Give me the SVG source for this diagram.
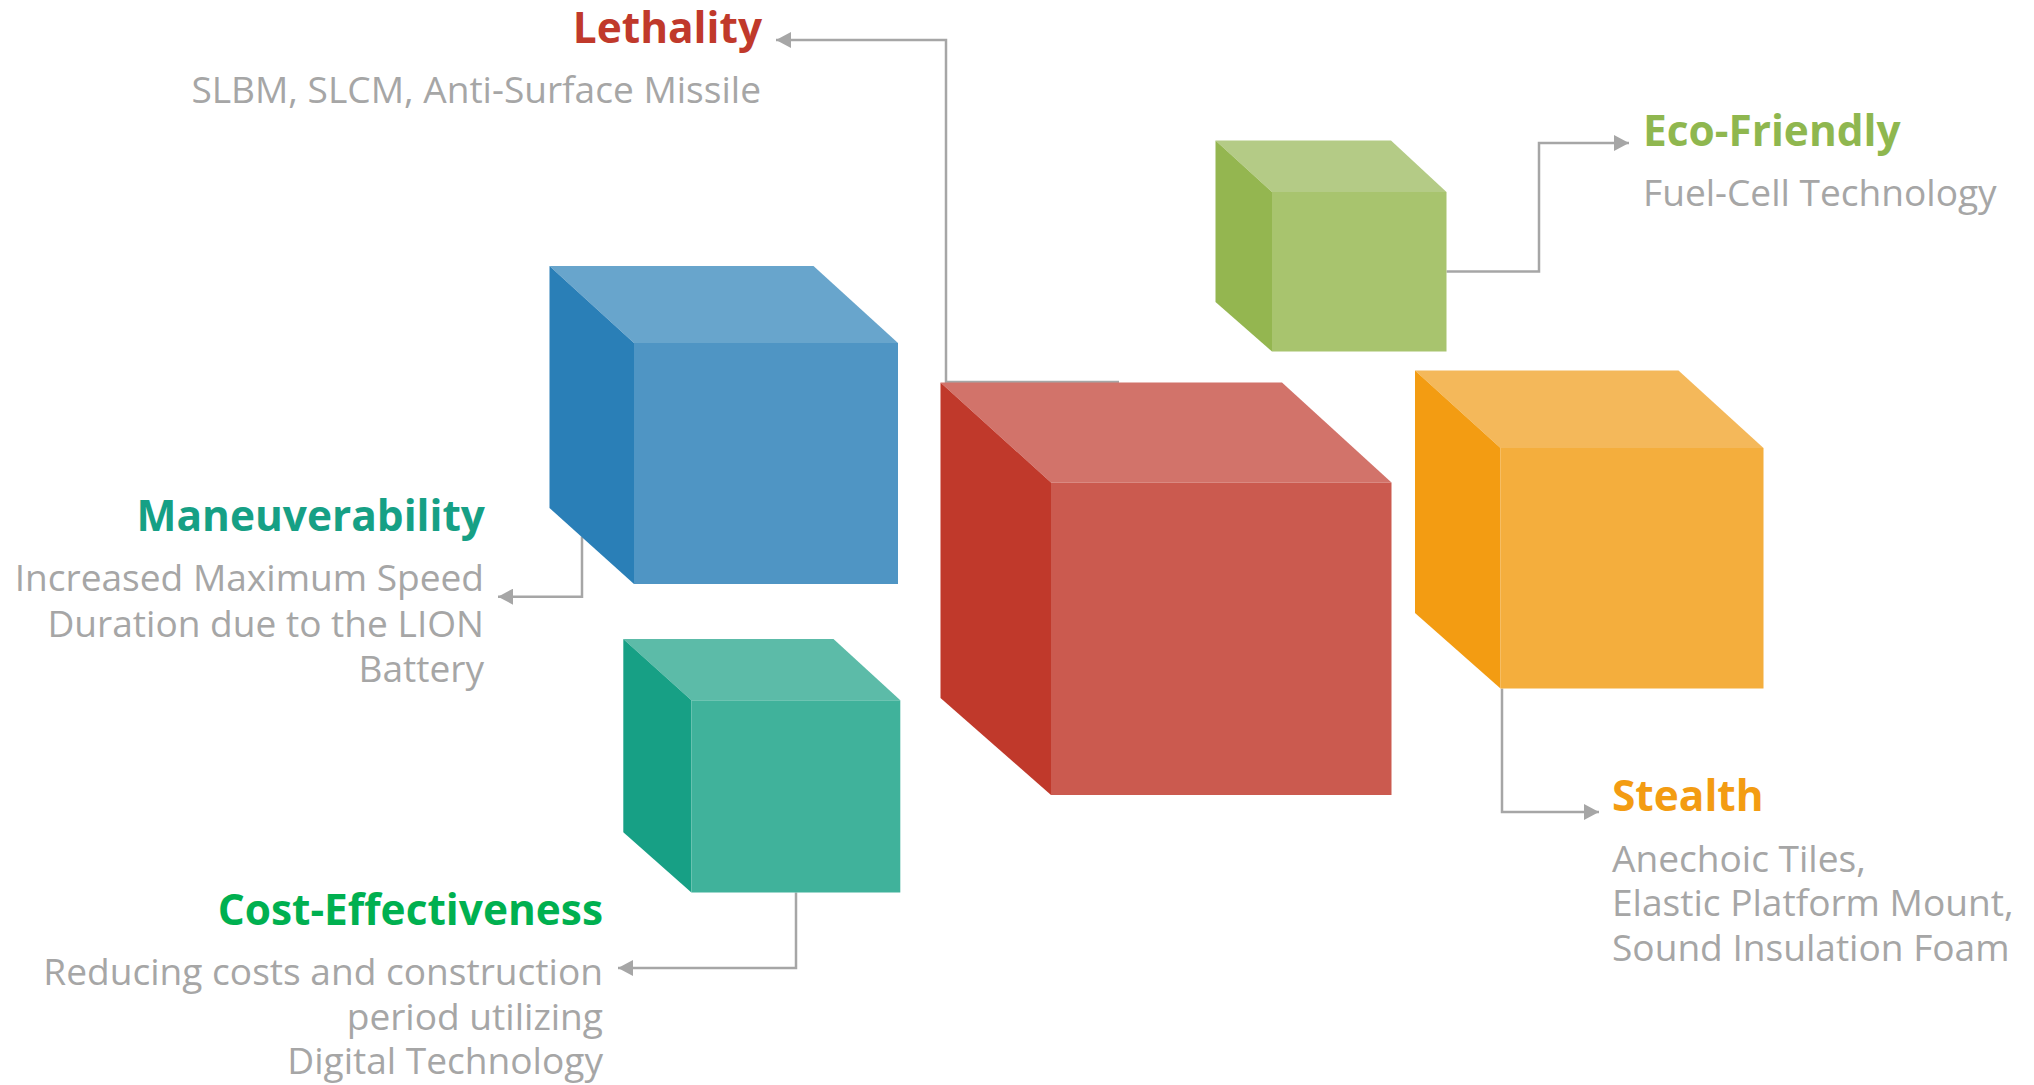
<svg xmlns="http://www.w3.org/2000/svg" width="2034" height="1085" viewBox="0 0 2034 1085">
<style>
.t{font-family:"Open Sans","Noto Sans","Liberation Sans",sans-serif;font-weight:700;font-size:42.4px}
.s{font-family:"Open Sans","Noto Sans","Liberation Sans",sans-serif;font-weight:400;font-size:37.1px;fill:#a6a6a6}
.e{text-anchor:end}
.c{fill:none;stroke:#a6a6a6;stroke-width:2.5}
</style>
<defs>
<marker id="ah" markerUnits="userSpaceOnUse" markerWidth="16" markerHeight="16" refX="15" refY="8" orient="auto">
<path d="M0,0 L15,8 L0,16 Z" fill="#a6a6a6"/>
</marker>
</defs>
<rect width="2034" height="1085" fill="#ffffff"/>
<g id="connectors">
<path class="c" d="M1119,382 H946 V40 H776" marker-end="url(#ah)"/>
<path class="c" d="M1446.5,271.5 H1539 V143 H1629" marker-end="url(#ah)"/>
<path class="c" d="M1502,688.5 V812 H1599" marker-end="url(#ah)"/>
<path class="c" d="M582,536.5 V596.7 H498" marker-end="url(#ah)"/>
<path class="c" d="M796,892.5 V968 H618" marker-end="url(#ah)"/>
</g>
<g id="cube-blue">
<polygon points="549.5,266 813.5,266 898,343 634,343" fill="#68a5cc"/>
<polygon points="549.5,266 634,343 634,584 549.5,508" fill="#2a7fb7"/>
<rect x="634" y="343" width="264" height="241" fill="#4f95c4"/>
</g>
<g id="cube-green">
<polygon points="1215.5,140.5 1391,140.5 1446.5,192 1272,192" fill="#b4cb86"/>
<polygon points="1215.5,140.5 1272,192 1272,351.5 1215.5,302" fill="#94b650"/>
<rect x="1272" y="192" width="174.5" height="159.5" fill="#a8c46e"/>
</g>
<g id="cube-red">
<polygon points="940.5,382.5 1282,382.5 1391.5,482.5 1051,482.5" fill="#d2736a"/>
<polygon points="940.5,382.5 1051,482.5 1051,795 940.5,698" fill="#c0392b"/>
<rect x="1051" y="482.5" width="340.5" height="312.5" fill="#cb5a4f"/>
</g>
<g id="cube-orange">
<polygon points="1415,370.5 1678.5,370.5 1763.5,448 1500.5,448" fill="#f4b85a"/>
<polygon points="1415,370.5 1500.5,448 1500.5,688.5 1415,613" fill="#f39c12"/>
<rect x="1500.5" y="448" width="263" height="240.5" fill="#f4ae3d"/>
</g>
<g id="cube-teal">
<polygon points="623.3,639 833.5,639 900.3,700.3 691.4,700.3" fill="#5cbba8"/>
<polygon points="623.3,639 691.4,700.3 691.4,892.5 623.3,832.2" fill="#17a085"/>
<rect x="691.4" y="700.3" width="208.9" height="192.2" fill="#40b29b"/>
</g>
<g id="label-lethality">
<text class="t e" x="762" y="42.5" fill="#c0392b">Lethality</text>
<text class="s e" x="761" y="102.7">SLBM, SLCM, Anti-Surface Missile</text>
</g>
<g id="label-eco">
<text class="t" x="1643" y="146" fill="#8fb74f">Eco-Friendly</text>
<text class="s" x="1643" y="206.4">Fuel-Cell Technology</text>
</g>
<g id="label-maneuverability">
<text class="t e" x="485" y="531" fill="#16a085">Maneuverability</text>
<text class="s e" x="484" y="590.7">Increased Maximum Speed</text>
<text class="s e" x="484" y="636.7">Duration due to the LION</text>
<text class="s e" x="484" y="681.7">Battery</text>
</g>
<g id="label-cost">
<text class="t e" x="603" y="924.7" fill="#00b050">Cost-Effectiveness</text>
<text class="s e" x="603" y="985.3">Reducing costs and construction</text>
<text class="s e" x="603" y="1029.6">period utilizing</text>
<text class="s e" x="603" y="1073.5">Digital Technology</text>
</g>
<g id="label-stealth">
<text class="t" x="1612" y="811.4" fill="#f39c12">Stealth</text>
<text class="s" x="1612" y="871.7">Anechoic Tiles,</text>
<text class="s" x="1612" y="916">Elastic Platform Mount,</text>
<text class="s" x="1612" y="961">Sound Insulation Foam</text>
</g>
</svg>
